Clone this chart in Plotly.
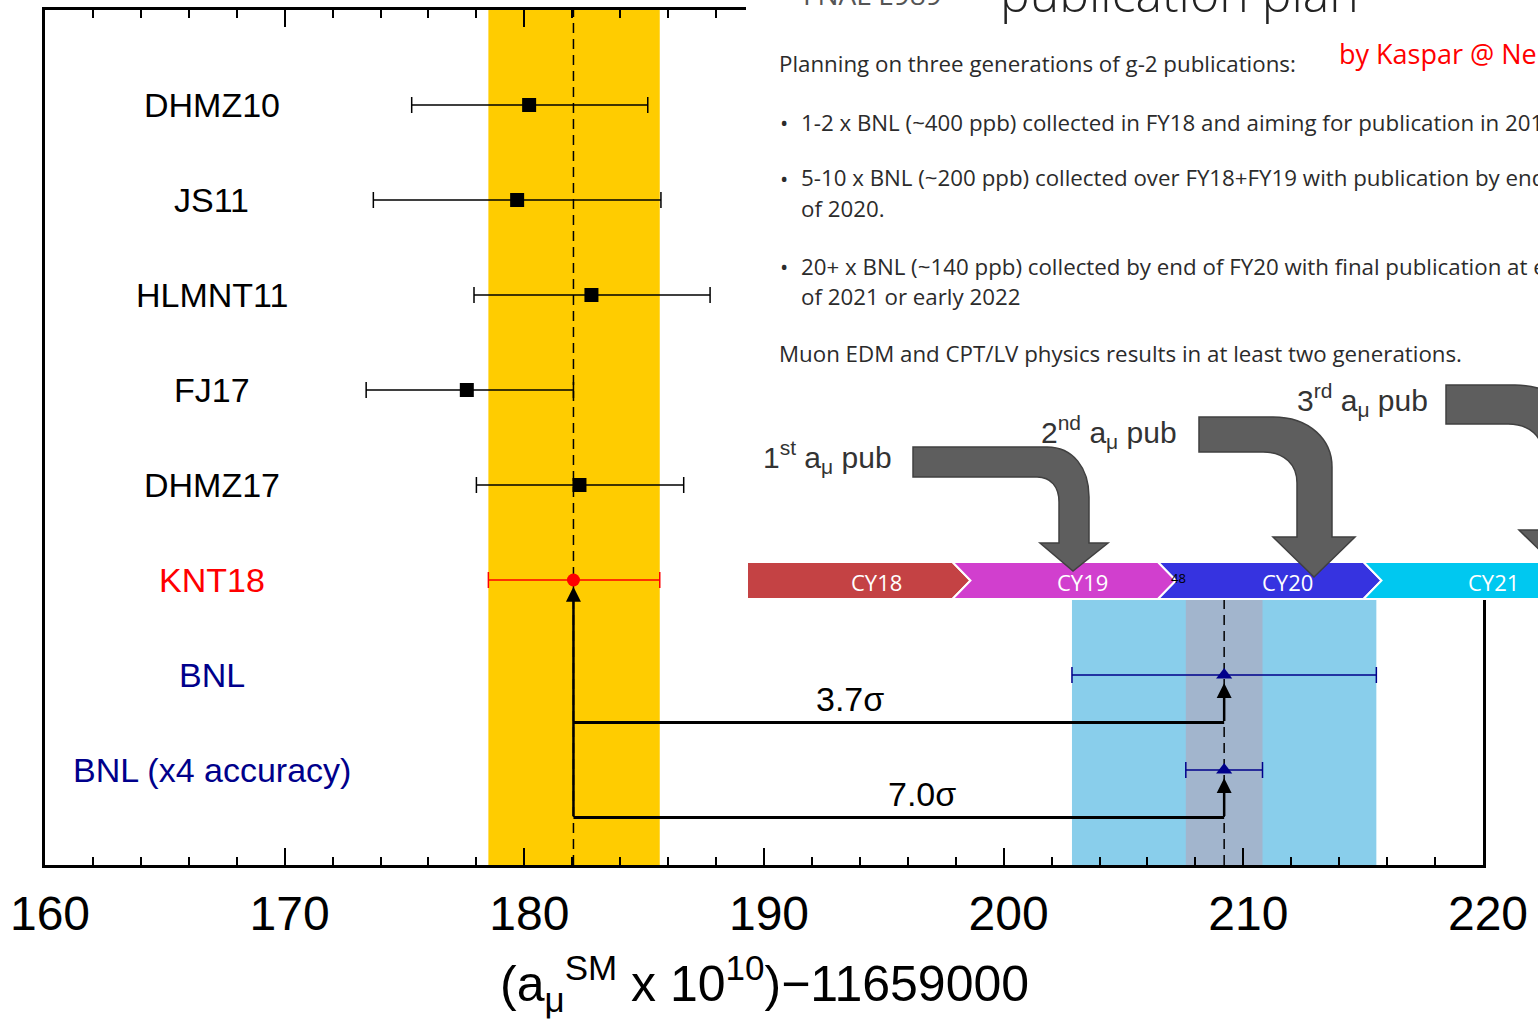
import plotly.graph_objects as go

# ---------------- data ----------------
labels = ["DHMZ10", "JS11", "HLMNT11", "FJ17", "DHMZ17", "KNT18", "BNL", "BNL (x4 accuracy)"]
label_colors = ["black", "black", "black", "black", "black", "#FF0000", "#00008B", "#00008B"]
rows = [8, 7, 6, 5, 4, 3, 2, 1]
centers = [180.2, 179.7, 182.8, 177.6, 182.3, 182.05, 209.2, 209.2]
err_lo = [175.3, 173.7, 177.9, 173.4, 178.0, 178.5, 202.85, 207.6]
err_hi = [185.15, 185.7, 187.75, 182.05, 186.65, 185.65, 215.55, 210.8]

sigma_labels = ["3.7σ", "7.0σ"]
sigma_rows = [1.5, 0.5]          # heights of the connecting lines
sigma_label_x = [193.6, 196.6]

x_ticks = [160, 170, 180, 190, 200, 210, 220]
x_title = "(a<sub>μ</sub><sup>SM</sup> x 10<sup>10</sup>)−11659000"

years = ["CY18", "CY19", "CY20", "CY21"]
year_colors = ["#C44244", "#D13FCE", "#3633E0", "#00C8F0"]

slide_lines = [
    ("", "Planning on three generations of g-2 publications:", 64),
    ("•", "1-2 x BNL (~400 ppb) collected in FY18 and aiming for publication in 2019.", 122),
    ("•", "5-10 x BNL (~200 ppb) collected over FY18+FY19 with publication by end", 178),
    ("", "of 2020.", 208),
    ("•", "20+ x BNL (~140 ppb) collected by end of FY20 with final publication at end", 266),
    ("", "of 2021 or early 2022", 296),
    ("", "Muon EDM and CPT/LV physics results in at least two generations.", 353),
]
pub_labels = ["1<sup>st</sup> a<sub>μ</sub> pub", "2<sup>nd</sup> a<sub>μ</sub> pub", "3<sup>rd</sup> a<sub>μ</sub> pub"]

# ---------------- layout helpers ----------------
W, H = 1538, 1024
ML, MR, MT, MB = 45, 55, 10, 159
PW = W - ML - MR
PH = H - MT - MB


def px(x):
    return (x - ML) / PW


def py(y):
    return (H - MB - y) / PH


def path(cmds):
    out = []
    for c, pts in cmds:
        if c == "Z":
            out.append("Z")
        else:
            out.append(c + " " + " ".join(f"{px(a):.5f},{py(b):.5f}" for a, b in pts))
    return " ".join(out)


HELV = "Liberation Sans, Arial, sans-serif"
SLIDE = "Open Sans, sans-serif"

fig = go.Figure()

shapes = []
annotations = []

# bands
knt = labels.index("KNT18")
bnl = labels.index("BNL")
bnl4 = labels.index("BNL (x4 accuracy)")
shapes.append(dict(type="rect", xref="x", yref="paper", x0=err_lo[knt], x1=err_hi[knt], y0=0, y1=1,
                   fillcolor="#FFCC00", line_width=0, layer="below"))
shapes.append(dict(type="rect", xref="x", yref="paper", x0=err_lo[bnl], x1=err_hi[bnl], y0=0, y1=1,
                   fillcolor="#89CEEB", line_width=0, layer="below"))
shapes.append(dict(type="rect", xref="x", yref="paper", x0=err_lo[bnl4], x1=err_hi[bnl4], y0=0, y1=1,
                   fillcolor="#A2B5CD", line_width=0, layer="below"))
# dashed central lines
for c in (centers[knt], centers[bnl]):
    shapes.append(dict(type="line", xref="x", yref="paper", x0=c, x1=c, y0=0, y1=1,
                       line=dict(color="black", width=1.5, dash="10px,6px"), layer="below"))

# connecting lines
for lab, yy, lx, idx in zip(sigma_labels, sigma_rows, sigma_label_x, [bnl, bnl4]):
    shapes.append(dict(type="line", xref="x", yref="y", x0=centers[knt], x1=centers[idx], y0=yy, y1=yy,
                       line=dict(color="black", width=3), layer="below"))
    annotations.append(dict(x=centers[idx], y=rows[idx] - 0.085, ax=centers[idx], ay=yy,
                            xref="x", yref="y", axref="x", ayref="y", text="", showarrow=True,
                            arrowhead=2, arrowsize=1.2, arrowwidth=2.5, arrowcolor="black", standoff=0))
    annotations.append(dict(x=lx, y=yy + 0.25, xref="x", yref="y", text=lab, showarrow=False,
                            font=dict(family=HELV, size=34, color="black")))
annotations.append(dict(x=centers[knt], y=rows[knt] - 0.07, ax=centers[knt], ay=min(sigma_rows),
                        xref="x", yref="y", axref="x", ayref="y", text="", showarrow=True,
                        arrowhead=2, arrowsize=1.2, arrowwidth=2.5, arrowcolor="black", standoff=0))

# data points
groups = [
    (list(range(0, 5)), "square", 14, "black", "black"),
    ([knt], "circle", 13, "#FF0000", "#FF0000"),
    ([bnl, bnl4], "triangle-up", 14, "#00008B", "#00008B"),
]
for idxs, sym, size, mcol, ecol in groups:
    fig.add_trace(go.Scatter(
        x=[centers[i] for i in idxs], y=[rows[i] for i in idxs], mode="markers",
        marker=dict(symbol=sym, size=size, color=mcol, line_width=0),
        error_x=dict(type="data", symmetric=False,
                     array=[err_hi[i] - centers[i] for i in idxs],
                     arrayminus=[centers[i] - err_lo[i] for i in idxs],
                     color=ecol, thickness=1.5, width=8),
        showlegend=False, cliponaxis=False))

# row labels
for lab, col, r in zip(labels, label_colors, rows):
    annotations.append(dict(x=166.95, y=r, xref="x", yref="y", text=lab, showarrow=False,
                            font=dict(family=HELV, size=34, color=col), xanchor="center", yanchor="middle"))

# x-axis title
annotations.append(dict(x=0.5, y=py(984), xref="paper", yref="paper", text=x_title, showarrow=False,
                        xanchor="center", yanchor="middle", font=dict(family=HELV, size=50, color="black")))

# ---------------- slide overlay ----------------
shapes.append(dict(type="rect", xref="paper", yref="paper", x0=px(746), x1=px(1560), y0=py(562), y1=py(-5),
                   fillcolor="white", line_width=0, layer="above"))

# timeline
seg_x0, seg_w, notch, t_top, t_bot = 747, 205.5, 18, 562, 599
t_mid = (t_top + t_bot) / 2
for i, (yr, col) in enumerate(zip(years, year_colors)):
    x0 = seg_x0 + i * seg_w
    x1 = x0 + seg_w
    pts = [(x0, t_top), (x1, t_top), (x1 + notch, t_mid), (x1, t_bot), (x0, t_bot)]
    if i > 0:
        pts.append((x0 + notch, t_mid))
    cmds = [("M", [pts[0]])] + [("L", [p]) for p in pts[1:]] + [("Z", [])]
    shapes.append(dict(type="path", xref="paper", yref="paper", path=path(cmds),
                       fillcolor=col, line=dict(color="white", width=2), layer="above"))
    annotations.append(dict(x=px(x0 + seg_w / 2 + 27), y=py(t_mid + 1), xref="paper", yref="paper",
                            text=yr, showarrow=False, xanchor="center", yanchor="middle",
                            font=dict(family=SLIDE, size=22, color="white")))
annotations.append(dict(x=px(1169), y=py(578), xref="paper", yref="paper", text="48", showarrow=False,
                        xanchor="left", yanchor="middle", font=dict(family=SLIDE, size=13, color="black")))

# bent publication arrows
bent = [
    [("M", [(913, 447)]), ("L", [(1047, 447)]), ("C", [(1073, 447), (1089, 468), (1089, 497)]),
     ("L", [(1089, 543)]), ("L", [(1108, 543)]), ("L", [(1073, 571)]), ("L", [(1040, 543)]),
     ("L", [(1059, 543)]), ("L", [(1059, 502)]), ("C", [(1059, 487), (1051, 477), (1037, 477)]),
     ("L", [(913, 477)]), ("Z", [])],
    [("M", [(1199, 417)]), ("L", [(1273, 417)]), ("C", [(1310, 417), (1332, 440), (1332, 467)]),
     ("L", [(1332, 537)]), ("L", [(1355, 537)]), ("L", [(1314, 577)]), ("L", [(1273, 537)]),
     ("L", [(1297, 537)]), ("L", [(1297, 483)]), ("C", [(1297, 465), (1285, 452), (1263, 452)]),
     ("L", [(1199, 452)]), ("Z", [])],
    [("M", [(1446, 385)]), ("L", [(1515, 385)]), ("C", [(1552, 385), (1578, 408), (1578, 435)]),
     ("L", [(1578, 530)]), ("L", [(1601, 530)]), ("L", [(1560, 570)]), ("L", [(1519, 530)]),
     ("L", [(1543, 530)]), ("L", [(1543, 455)]), ("C", [(1543, 437), (1530, 424), (1508, 424)]),
     ("L", [(1446, 424)]), ("Z", [])],
]
for b in bent:
    shapes.append(dict(type="path", xref="paper", yref="paper", path=path(b),
                       fillcolor="#5E5E5E", line=dict(color="#404040", width=1.5), layer="above"))

for lab, (x, y) in zip(pub_labels, [(761, 457), (1039, 432), (1295, 400)]):
    annotations.append(dict(x=px(x), y=py(y), xref="paper", yref="paper", text=lab, showarrow=False,
                            xanchor="left", yanchor="middle", font=dict(family=HELV, size=30, color="#333333")))

# slide texts
annotations.append(dict(x=px(801), y=py(-6), xref="paper", yref="paper", text="FNAL E989", showarrow=False,
                        xanchor="left", yanchor="middle", font=dict(family=SLIDE, size=28, color="#555555")))
annotations.append(dict(x=px(998), y=py(-7), xref="paper", yref="paper", text="publication plan",
                        showarrow=False, xanchor="left", yanchor="middle",
                        font=dict(family=SLIDE, size=50, color="#222222", weight=300)))
annotations.append(dict(x=px(1337), y=py(54), xref="paper", yref="paper", text="by Kaspar @ Neutrino 2018",
                        showarrow=False, xanchor="left", yanchor="middle",
                        font=dict(family=SLIDE, size=27, color="#FF0000")))
for bullet, txt, y in slide_lines:
    if bullet:
        annotations.append(dict(x=px(778), y=py(y), xref="paper", yref="paper", text=bullet, showarrow=False,
                                xanchor="left", yanchor="middle", font=dict(family=SLIDE, size=22, color="#2B2B2B")))
    x = 777 if (not bullet and not txt.startswith("of ")) else 799
    annotations.append(dict(x=px(x), y=py(y), xref="paper", yref="paper", text=txt, showarrow=False,
                            xanchor="left", yanchor="middle", font=dict(family=SLIDE, size=22.3, color="#2B2B2B")))

fig.update_layout(
    width=W, height=H, margin=dict(l=ML, r=MR, t=MT, b=MB, autoexpand=False),
    paper_bgcolor="white", plot_bgcolor="white",
    shapes=shapes, annotations=annotations, showlegend=False,
    xaxis=dict(range=[160, 220], tickvals=x_ticks, showline=True, linewidth=3, linecolor="black",
               mirror="allticks", ticks="inside", ticklen=17, tickwidth=2, tickcolor="black",
               minor=dict(dtick=2, ticks="inside", ticklen=8, tickwidth=2, tickcolor="black"),
               showgrid=False, zeroline=False, ticklabelstandoff=4, ticklabelshift=5, automargin=False,
               tickfont=dict(family=HELV, size=48, color="black")),
    yaxis=dict(range=[0, 9], showline=True, linewidth=3, linecolor="black", mirror=True, automargin=False,
               showticklabels=False, ticks="", showgrid=False, zeroline=False),
)

fig.write_html("out.html")
